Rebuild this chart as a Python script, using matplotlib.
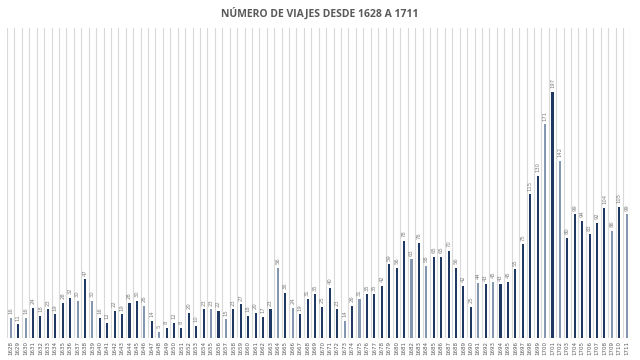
import matplotlib
matplotlib.use("Agg")
import matplotlib.pyplot as plt
import numpy as np

# años y número de viajes
years = list(range(1628, 1712))
trips = [
    16, 11, 16, 24, 18, 23, 19, 28, 32, 30,
    47, 30, 16, 12, 22, 19, 28, 30, 26, 14,
    5, 8, 12, 8, 20, 10, 23, 23, 22, 15,
    23, 27, 18, 20, 17, 23, 56, 36, 24, 19,
    31, 35, 25, 40, 23, 14, 26, 31, 35, 35,
    42, 59, 56, 78, 63, 76, 58, 65, 65, 70,
    56, 42, 25, 44, 43, 45, 43, 45, 55, 75,
    115, 130, 171, 197, 142, 80, 99, 94, 83, 92,
    104, 86, 105, 99,
]
# años que aparecen en el tono claro
light_years = [1628, 1630, 1637, 1639, 1646, 1648, 1655, 1657, 1664, 1666,
               1673, 1675, 1682, 1684, 1691, 1693, 1700, 1702, 1709, 1711]

DARK = "#1f3864"
LIGHT = "#8497b0"
TEXT = "#595959"

fig = plt.figure(figsize=(6.4, 3.6), dpi=100)
ax = fig.add_axes([0.011, 0.061, 0.974, 0.861])

x = np.arange(len(years))
colors = [LIGHT if y in light_years else DARK for y in years]
ax.bar(x, trips, width=0.28, color=colors, zorder=3)

for xi, v in zip(x, trips):
    ax.text(xi, v + 3, str(v), rotation=90, ha="center", va="bottom",
            fontsize=3.8, color="#7f7f7f")

for b in np.arange(-0.5, len(years), 1.0):
    ax.axvline(b, color="#d9d9d9", linewidth=0.8, zorder=1)

ax.set_xlim(-0.5, len(years) - 0.5)
ax.set_ylim(0, 248)
ax.set_xticks(x)
ax.set_xticklabels([str(y) for y in years], rotation=90, fontsize=4, color=TEXT)
ax.tick_params(axis="x", length=0, pad=2)
ax.set_yticks([])
for s in ax.spines.values():
    s.set_visible(False)

fig.text(0.5, 0.963, "NÚMERO DE VIAJES DESDE 1628 A 1711", ha="center", va="center",
         fontsize=7.5, fontweight="bold", color=TEXT, family="Open Sans")

fig.savefig("out.png", dpi=100)
